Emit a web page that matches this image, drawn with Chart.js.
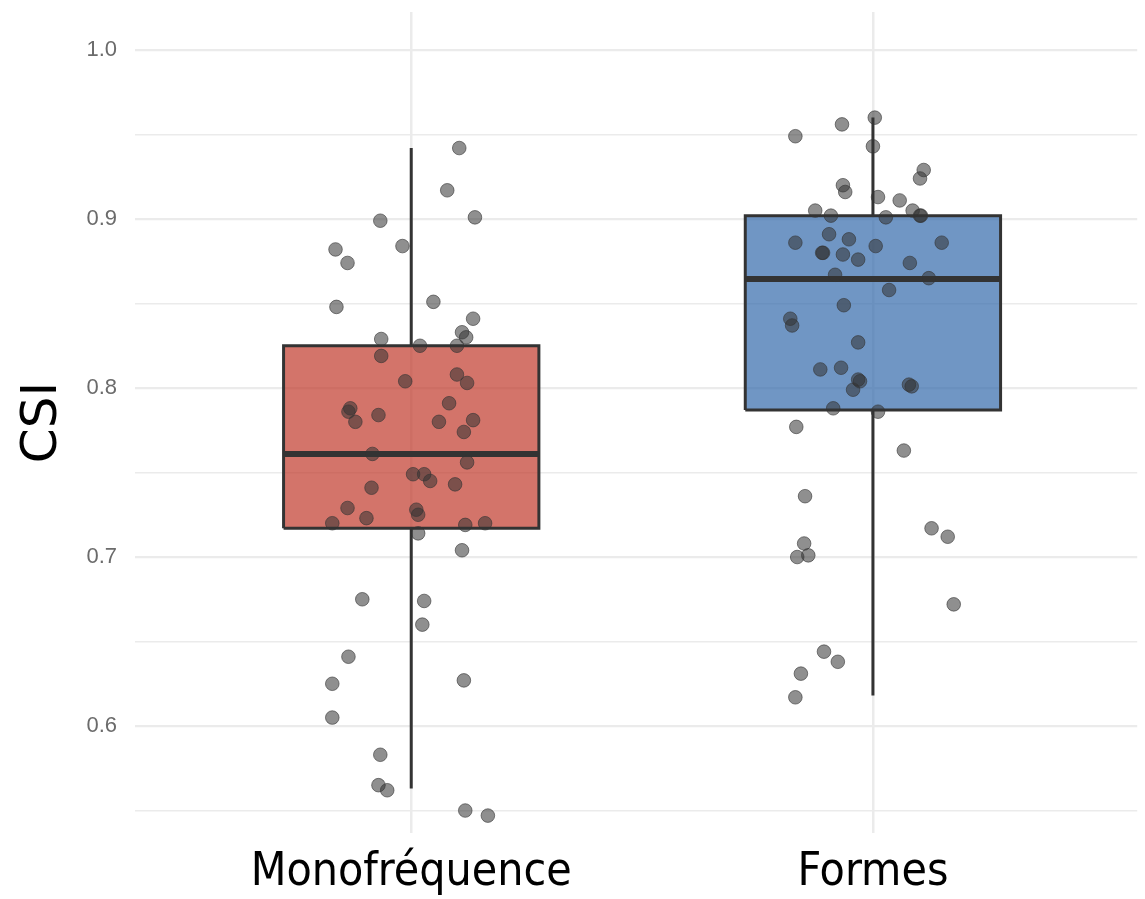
<!DOCTYPE html>
<html>
<head>
<meta charset="utf-8">
<script src="https://cdn.jsdelivr.net/npm/chart.js@4/dist/chart.umd.min.js"></script>
<style>
  html, body { margin: 0; padding: 0; background: #fff; overflow: hidden; }
  #wrap { width: 1145px; height: 899px; position: relative; }
  #csiChart { display: block; }
</style>
</head>
<body>
<div id="wrap"><canvas id="csiChart"></canvas></div>
<script>
// categories and tick labels
const categories = ['Monofréquence', 'Formes'];
const yTicks = [0.55, 0.6, 0.65, 0.7, 0.75, 0.8, 0.85, 0.9, 0.95, 1.0];

// box statistics, one entry per category
const q1 = [0.717, 0.787];
const median = [0.761, 0.8645];
const q3 = [0.825, 0.902];
const whiskerLow = [0.563, 0.618];
const whiskerHigh = [0.942, 0.960];

// jittered observations (x = jittered category position, y = CSI)
const monoX = [1.104, 1.078, 1.138, 0.933, 0.981, 0.836, 0.862, 1.048, 0.838, 1.134,
  1.110, 1.119, 0.935, 1.019, 1.099, 0.935, 1.099, 1.121, 0.987, 1.082,
  0.868, 0.864, 0.879, 0.929, 1.060, 1.134, 1.114, 0.916, 1.121, 1.004,
  1.028, 1.041, 1.095, 0.914, 0.862, 0.903, 1.011, 1.015, 0.829, 1.117,
  1.160, 1.015, 1.110, 0.894, 1.028, 1.024, 0.864, 1.114, 0.829, 0.829,
  0.933, 0.929, 0.948, 1.117, 1.166];
const monoCSI = [0.942, 0.917, 0.901, 0.899, 0.884, 0.882, 0.874, 0.851, 0.848, 0.841,
  0.833, 0.830, 0.829, 0.825, 0.825, 0.819, 0.808, 0.803, 0.804, 0.791,
  0.788, 0.786, 0.780, 0.784, 0.780, 0.781, 0.774, 0.761, 0.756, 0.749,
  0.749, 0.745, 0.743, 0.741, 0.729, 0.723, 0.728, 0.725, 0.720, 0.719,
  0.720, 0.714, 0.704, 0.675, 0.674, 0.660, 0.641, 0.627, 0.625, 0.605,
  0.583, 0.565, 0.562, 0.550, 0.547];

const formesX = [1.832, 1.933, 2.004, 2.000, 2.110, 2.102, 1.935, 1.940, 2.011, 2.058,
  1.875, 1.909, 2.028, 2.086, 2.102, 2.104, 1.905, 1.832, 1.948, 2.006,
  2.149, 1.892, 1.890, 1.935, 1.968, 2.080, 1.918, 2.121, 2.035, 1.937,
  1.821, 1.825, 1.968, 1.886, 1.931, 1.968, 1.972, 1.957, 2.078, 2.084,
  1.914, 2.011, 1.834, 2.067, 1.853, 2.127, 2.162, 1.851, 1.836, 1.860,
  2.175, 1.894, 1.924, 1.844, 1.832];
const formesCSI = [0.949, 0.956, 0.960, 0.943, 0.929, 0.924, 0.920, 0.916, 0.913, 0.911,
  0.905, 0.902, 0.901, 0.905, 0.902, 0.902, 0.891, 0.886, 0.888, 0.884,
  0.886, 0.880, 0.880, 0.879, 0.876, 0.874, 0.867, 0.865, 0.858, 0.849,
  0.841, 0.837, 0.827, 0.811, 0.812, 0.805, 0.804, 0.799, 0.802, 0.801,
  0.788, 0.786, 0.777, 0.763, 0.736, 0.717, 0.712, 0.708, 0.700, 0.701,
  0.672, 0.644, 0.638, 0.631, 0.617];

const boxFill = ['rgba(192, 57, 43, 0.7)', 'rgba(51, 105, 171, 0.7)'];
const boxHalf = 0.2765;
const ink = '#333333';

const datasets = [];

// points on top
[[monoX, monoCSI], [formesX, formesCSI]].forEach(([xs, ys]) => {
    datasets.push({
        type: 'scatter',
        data: xs.map((x, i) => ({ x: x, y: ys[i] })),
        pointRadius: 6.8,
        pointHoverRadius: 6.8,
        backgroundColor: 'rgba(51, 51, 51, 0.55)',
        borderColor: 'rgba(51, 51, 51, 0.6)',
        borderWidth: 1,
        order: 0
    });
});

categories.forEach((cat, i) => {
    const c = i + 1;
    // median
    datasets.push({
        type: 'line',
        data: [{ x: c - boxHalf, y: median[i] }, { x: c + boxHalf, y: median[i] }],
        borderColor: ink,
        borderWidth: 6,
        pointRadius: 0,
        fill: false,
        order: 1
    });
    // box
    datasets.push({
        type: 'line',
        data: [
            { x: c - boxHalf, y: q1[i] }, { x: c + boxHalf, y: q1[i] },
            { x: c + boxHalf, y: q3[i] }, { x: c - boxHalf, y: q3[i] },
            { x: c - boxHalf, y: q1[i] }
        ],
        borderColor: ink,
        borderWidth: 3,
        backgroundColor: boxFill[i],
        fill: 'shape',
        pointRadius: 0,
        tension: 0,
        order: 2
    });
    // whiskers
    datasets.push({
        type: 'line',
        data: [{ x: c, y: q3[i] }, { x: c, y: whiskerHigh[i] }],
        borderColor: ink,
        borderWidth: 3,
        pointRadius: 0,
        fill: false,
        order: 3
    });
    datasets.push({
        type: 'line',
        data: [{ x: c, y: whiskerLow[i] }, { x: c, y: q1[i] }],
        borderColor: ink,
        borderWidth: 3,
        pointRadius: 0,
        fill: false,
        order: 3
    });
});

const isMajor = v => Math.abs(Math.round(v * 10) - v * 10) < 1e-6;

// drop the label overhang padding so the plot area sits where the original does
const noPad = axis => {
    axis.paddingTop = 0;
    axis.paddingBottom = 0;
    axis.paddingLeft = 0;
    axis.paddingRight = 0;
};

new Chart(document.getElementById('csiChart'), {
    type: 'scatter',
    data: { datasets: datasets },
    options: {
        responsive: true,
        maintainAspectRatio: false,
        animation: false,
        layout: { padding: { top: 12, right: 0, left: 0, bottom: 0 } },
        plugins: {
            legend: { display: false },
            tooltip: { enabled: false }
        },
        scales: {
            x: {
                type: 'linear',
                min: 0.4017,
                max: 2.5724,
                afterBuildTicks: axis => { axis.ticks = categories.map((c, i) => ({ value: i + 1 })); },
                afterFit: axis => { axis.height = 66; noPad(axis); },
                border: { display: false },
                grid: { color: '#ebebeb', lineWidth: 2.5, drawTicks: false },
                ticks: {
                    padding: 12,
                    color: '#000',
                    font: { family: "'DejaVu Sans Condensed', 'DejaVu Sans', sans-serif", size: 46 },
                    callback: v => categories[Math.round(v) - 1]
                }
            },
            y: {
                min: 0.5367,
                max: 1.0225,
                afterBuildTicks: axis => { axis.ticks = yTicks.map(v => ({ value: v })); },
                afterFit: axis => { axis.width = 135; noPad(axis); },
                border: { display: false },
                grid: {
                    color: '#ebebeb',
                    lineWidth: ctx => isMajor(ctx.tick.value) ? 2.2 : 1.4,
                    drawTicks: false
                },
                ticks: {
                    padding: 18,
                    color: '#6b6b6b',
                    font: { family: "'Liberation Sans', Arial, sans-serif", size: 22 },
                    callback: v => isMajor(v) ? v.toFixed(1) : ''
                },
                title: {
                    display: true,
                    text: 'CSI',
                    color: '#000',
                    padding: { top: 13, bottom: 0 },
                    font: { family: "'DejaVu Sans', sans-serif", size: 50, weight: 'normal' }
                }
            }
        }
    }
});
</script>
</body>
</html>
